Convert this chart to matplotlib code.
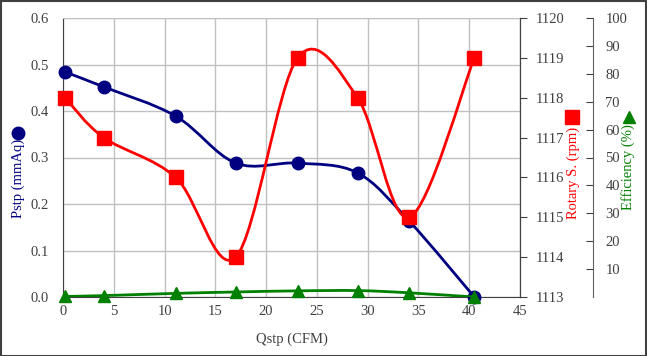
import matplotlib.pyplot as plt
import numpy as np
from matplotlib.path import Path
from matplotlib.patches import PathPatch, Rectangle
from matplotlib.lines import Line2D

# data
qstp = [0.2, 4.0, 11.1, 17.0, 23.1, 29.0, 34.1, 40.5]
pstp = [0.484, 0.452, 0.389, 0.288, 0.288, 0.267, 0.163, 0.0]
rotary = [1118.0, 1117.0, 1116.0, 1114.0, 1119.0, 1118.0, 1115.0, 1119.0]
efficiency = [0.2, 0.5, 1.3, 1.8, 2.2, 2.3, 1.5, 0.0]

NAVY = '#000080'
RED = '#ff0000'
GREEN = '#008000'
TXT = '#404040'

plt.rcParams['font.family'] = 'Liberation Serif'
plt.rcParams['font.size'] = 10


def smooth(ax, x, y, color, lw=2.0):
    # excel-like smoothed line: catmull-rom converted to cubic bezier segments
    n = len(x)
    verts = [(x[0], y[0])]
    codes = [Path.MOVETO]
    for i in range(n - 1):
        a = max(i - 1, 0)
        b = min(i + 2, n - 1)
        c1 = (x[i] + (x[i + 1] - x[a]) / 6, y[i] + (y[i + 1] - y[a]) / 6)
        c2 = (x[i + 1] - (x[b] - x[i]) / 6, y[i + 1] - (y[b] - y[i]) / 6)
        verts += [c1, c2, (x[i + 1], y[i + 1])]
        codes += [Path.CURVE4] * 3
    ax.add_patch(PathPatch(Path(verts, codes), fill=False, edgecolor=color,
                           lw=lw, capstyle='round', joinstyle='round'))


W, H = 647, 356
fig = plt.figure(figsize=(W / 100, H / 100), dpi=100)
l, r, t, b = 63, 520, 18, 297
ax = fig.add_axes((l / W, (H - b) / H, (r - l) / W, (b - t) / H))

ax.set_xlim(0, 45)
ax.set_ylim(0, 0.6)
ax.set_xticks(np.arange(0, 46, 5))
ax.set_yticks(np.arange(0, 0.61, 0.1))
ax.set_yticklabels(['%.1f' % v for v in np.arange(0, 0.61, 0.1)])
ax.grid(True, color='#c0c0c0', lw=1)
ax.set_axisbelow(True)
ax.tick_params(length=0, colors=TXT, labelsize=10.5)
ax.tick_params(axis='y', pad=10)
ax.tick_params(axis='x', pad=6)
for s in ['left', 'bottom']:
    ax.spines[s].set_color('#404040')
ax.spines['top'].set_color('#c0c0c0')
ax.spines['right'].set_color('#404040')
ax.set_xlabel('Qstp (CFM)', color=TXT, fontsize=10.5, labelpad=10)

smooth(ax, qstp, pstp, NAVY)
ax.plot(qstp, pstp, 'o', color=NAVY, ms=9, clip_on=False, zorder=5)

ax2 = ax.twinx()
ax2.set_ylim(1113, 1120)
ax2.set_yticks(range(1113, 1121))
ax2.tick_params(direction='out', length=5, colors='#404040', labelcolor=TXT,
                labelsize=10.5, pad=6)
for s in ax2.spines.values():
    s.set_visible(False)
ax2.spines['right'].set_visible(True)
ax2.spines['right'].set_color('#404040')
smooth(ax2, qstp, rotary, RED)
ax2.plot(qstp, rotary, 's', color=RED, ms=10, clip_on=False, zorder=5)

ax3 = ax.twinx()
ax3.set_ylim(0, 100)
ax3.set_yticks(range(10, 101, 10))
ax3.spines['right'].set_position(('axes', (593 - l) / (r - l)))
for s in ax3.spines.values():
    s.set_visible(False)
ax3.spines['right'].set_visible(True)
ax3.spines['right'].set_color('#606060')
ax3.tick_params(direction='in', length=5, colors='#404040', labelcolor=TXT,
                labelsize=10.5, pad=9)
smooth(ax3, qstp, efficiency, GREEN)
ax3.plot(qstp, efficiency, '^', color=GREEN, ms=9, clip_on=False, zorder=5)

# axis titles with their marker symbols
fig.text(18 / W, 1 - 178 / H, 'Pstp (mmAq)', rotation=90, color=NAVY,
         ha='center', va='center', fontsize=10.5)
fig.add_artist(Line2D([18 / W], [1 - 133 / H], marker='o', ms=9, color=NAVY,
                      transform=fig.transFigure))
fig.text(573 / W, 1 - 173 / H, 'Rotary S. (rpm)', rotation=90, color=RED,
         ha='center', va='center', fontsize=10.5)
fig.add_artist(Line2D([572 / W], [1 - 117 / H], marker='s', ms=10, color=RED,
                      transform=fig.transFigure))
fig.text(628 / W, 1 - 167 / H, 'Efficiency (%)', rotation=90, color=GREEN,
         ha='center', va='center', fontsize=10.5)
fig.add_artist(Line2D([629 / W], [1 - 117 / H], marker='^', ms=9, color=GREEN,
                      transform=fig.transFigure))

# outer frame
fig.add_artist(Rectangle((0.5 / W, 0.5 / H), 1 - 1.5 / W, 1 - 1.5 / H,
                         transform=fig.transFigure, fill=False,
                         edgecolor='#404040', lw=1.5))

fig.savefig('out.png', dpi=100)
